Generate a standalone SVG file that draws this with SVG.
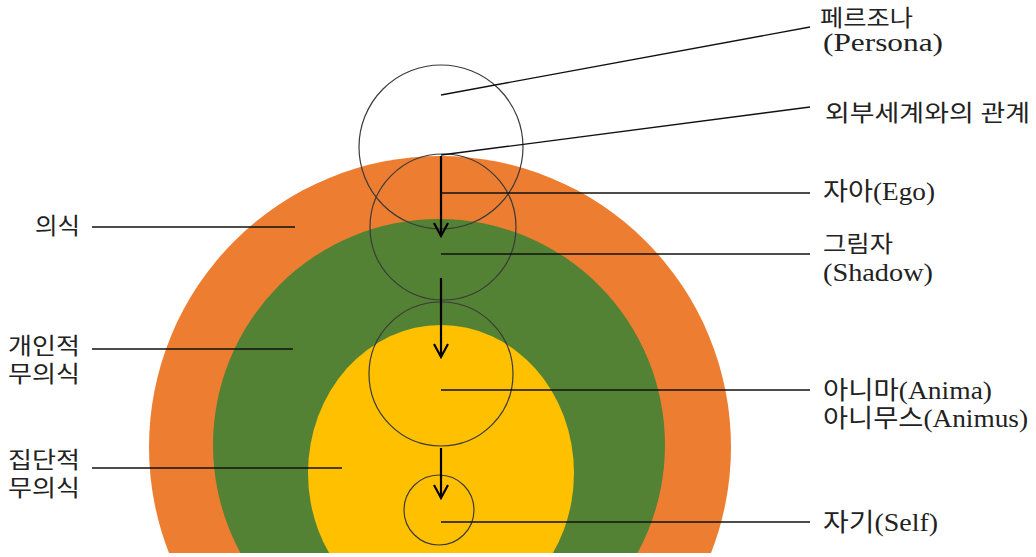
<svg xmlns="http://www.w3.org/2000/svg" width="1036" height="557" viewBox="0 0 1036 557">
<style>
.t{font-family:"Liberation Serif","Noto Sans CJK KR",serif;font-size:23px;fill:#222}
.l{font-size:25px}
.ring{fill:none;stroke:#3a3a3a;stroke-width:1.2}
.lead{stroke:#111;stroke-width:1.3;fill:none}
.arr{stroke:#000;stroke-width:2.2;fill:none;marker-end:url(#v)}
</style>
<defs>
<clipPath id="cut"><rect x="0" y="0" width="1036" height="553"/></clipPath>
<marker id="v" markerUnits="userSpaceOnUse" markerWidth="30" markerHeight="30" refX="0" refY="0" orient="auto" overflow="visible">
<path d="M-13,-7 L0,0 L-13,7" fill="none" stroke="#000" stroke-width="2.2"/>
</marker>
</defs>
<g id="layers" clip-path="url(#cut)">
<circle id="conscious" cx="440" cy="447" r="291" fill="#ED7D31"/>
<circle id="personal-unconscious" cx="439" cy="445" r="226" fill="#548235"/>
<ellipse id="collective-unconscious" cx="441" cy="473" rx="133" ry="148" fill="#FFC000"/>
</g>
<g id="persona"><circle class="ring" cx="441" cy="147" r="82"/></g>
<g id="ego"><circle class="ring" cx="443" cy="227" r="73"/></g>
<g id="anima"><circle class="ring" cx="441" cy="374" r="72"/></g>
<g id="self"><circle class="ring" cx="439" cy="510" r="35"/></g>
<g id="connectors">
<path class="arr" d="M441,156 L441,236"/>
<path class="arr" d="M441,278 L441,357"/>
<path class="arr" d="M441,448 L441,498"/>
<path class="lead" d="M441,95 L810,27"/>
<path class="lead" d="M441,155 L810,107"/>
<path class="lead" d="M441,193 L810,193"/>
<path class="lead" d="M441,254 L810,254"/>
<path class="lead" d="M441,390 L810,390"/>
<path class="lead" d="M441,522 L810,522"/>
<path class="lead" d="M92,227 L295,227"/>
<path class="lead" d="M92,349 L293,349"/>
<path class="lead" d="M92,468 L342,468"/>
</g>
<g id="labels-right">
<text class="t" x="820" y="26" textLength="93" lengthAdjust="spacingAndGlyphs">페르조나</text>
<text class="t l" x="823" y="51" textLength="120" lengthAdjust="spacingAndGlyphs">(Persona)</text>
<text class="t" x="825" y="121" textLength="205" lengthAdjust="spacingAndGlyphs">외부세계와의 관계</text>
<text class="t l" x="823" y="200" textLength="112" lengthAdjust="spacingAndGlyphs">자아(Ego)</text>
<text class="t" x="823" y="252" textLength="70" lengthAdjust="spacingAndGlyphs">그림자</text>
<text class="t l" x="823" y="281" textLength="110" lengthAdjust="spacingAndGlyphs">(Shadow)</text>
<text class="t l" x="823" y="399" textLength="169" lengthAdjust="spacingAndGlyphs">아니마(Anima)</text>
<text class="t l" x="823" y="427" textLength="205" lengthAdjust="spacingAndGlyphs">아니무스(Animus)</text>
<text class="t l" x="823" y="531" textLength="115" lengthAdjust="spacingAndGlyphs">자기(Self)</text>
</g>
<g id="labels-left">
<text class="t" x="35" y="234" textLength="45" lengthAdjust="spacingAndGlyphs">의식</text>
<text class="t" x="8" y="354" textLength="72" lengthAdjust="spacingAndGlyphs">개인적</text>
<text class="t" x="8" y="382" textLength="72" lengthAdjust="spacingAndGlyphs">무의식</text>
<text class="t" x="8" y="468" textLength="72" lengthAdjust="spacingAndGlyphs">집단적</text>
<text class="t" x="8" y="496" textLength="72" lengthAdjust="spacingAndGlyphs">무의식</text>
</g>
</svg>
